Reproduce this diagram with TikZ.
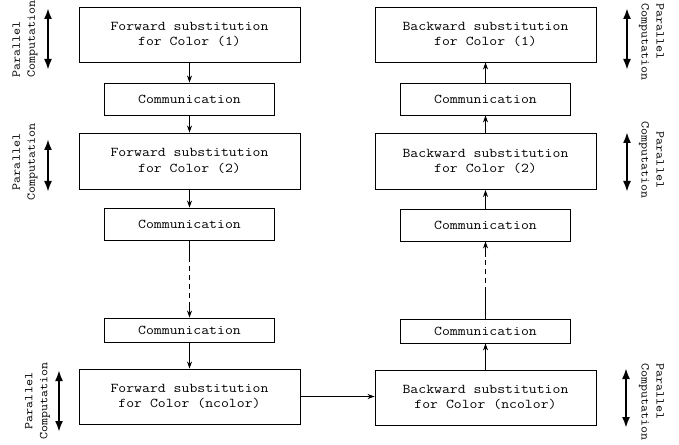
\documentclass[tikz,border=0pt]{standalone}
\usepackage{fontspec}
\setmonofont{Latin Modern Mono}[FakeStretch=1.14]
\usetikzlibrary{arrows.meta}
\begin{document}
\begin{tikzpicture}[x=1bp,y=-1bp,
 every node/.style={font=\ttfamily\fontsize{13.5}{15.5}\selectfont},
 bigbox/.style={draw, line width=0.9bp, minimum width=221bp, minimum height=55bp, inner sep=0pt, align=center},
 commbox/.style={draw, line width=0.9bp, minimum width=170bp, minimum height=32bp, inner sep=0pt},
 plain/.style={line width=0.9bp},
 flow/.style={line width=0.9bp, -{Stealth[length=7bp,width=5bp]}},
 dashline/.style={line width=0.9bp, dash pattern=on 5bp off 4bp},
 side/.style={line width=2bp, {Latex[length=11bp,width=8bp]}-{Latex[length=11bp,width=8bp]}},
 sidelabel/.style={font=\ttfamily\fontsize{12}{15}\selectfont, inner sep=0pt}
]
\useasboundingbox (0,0) rectangle (679,445);

% left column
\node[bigbox] (f1) at (189.5,34.5) {Forward substitution\\for Color (1)};
\node[commbox] (c1) at (189.5,99) {Communication};
\node[bigbox, minimum height=56bp] (f2) at (189.5,161) {Forward substitution\\for Color (2)};
\node[commbox] (c2) at (189.5,224) {Communication};
\node[commbox, minimum height=24bp] (c3) at (189.5,330) {Communication};
\node[bigbox] (fn) at (189.5,396.5) {Forward substitution\\for Color (ncolor)};

% right column
\node[bigbox] (b1) at (485.5,34.5) {Backward substitution\\for Color (1)};
\node[commbox] (rc1) at (485.5,99) {Communication};
\node[bigbox, minimum height=56bp] (b2) at (485.5,161.5) {Backward substitution\\for Color (2)};
\node[commbox] (rc2) at (485.5,225) {Communication};
\node[commbox, minimum height=24bp] (rc3) at (485.5,331) {Communication};
\node[bigbox] (bn) at (485.5,397.5) {Backward substitution\\for Color (ncolor)};

% left flow
\draw[flow] (f1) -- (c1);
\draw[flow] (c1) -- (f2);
\draw[flow] (f2) -- (c2);
\coordinate (l1) at (189.5,257);
\coordinate (l2) at (189.5,302);
\draw[plain] (c2) -- (l1);
\draw[dashline] (l1) -- (l2);
\draw[flow] (l2) -- (c3);
\draw[flow] (c3) -- (fn);

% bottom link
\draw[flow] (fn.east) -- (fn.east -| bn.west);

% right flow
\draw[flow] (bn) -- (rc3);
\coordinate (r1) at (485.5,292);
\coordinate (r2) at (485.5,257);
\draw[plain] (rc3) -- (r1);
\draw[dashline] (r1) -- (r2);
\draw[flow] (r2) -- (rc2);
\draw[flow] (rc2) -- (b2);
\draw[flow] (b2) -- (rc1);
\draw[flow] (rc1) -- (b1);

% side arrows
\coordinate (a1t) at (48,8);   \coordinate (a1b) at (48,70);
\coordinate (a2t) at (48,139); \coordinate (a2b) at (48,192);
\coordinate (a3t) at (59,370); \coordinate (a3b) at (59,432);
\coordinate (a4t) at (627,8);  \coordinate (a4b) at (627,70);
\coordinate (a5t) at (627,132);\coordinate (a5b) at (627,192);
\coordinate (a6t) at (626,368);\coordinate (a6b) at (626,428);
\draw[side] (a1t) -- (a1b);
\draw[side] (a2t) -- (a2b);
\draw[side] (a3t) -- (a3b);
\draw[side] (a4t) -- (a4b);
\draw[side] (a5t) -- (a5b);
\draw[side] (a6t) -- (a6b);

% side labels
\node[sidelabel, rotate=90, align=left] (p1) at (25,39) {Parallel\\Computation};
\node[sidelabel, rotate=90, align=center] (p2) at (25,162) {Parallel\\Computation};
\node[sidelabel, rotate=90, align=center] (p3) at (37.5,401) {Parallel\\Computation};
\node[sidelabel, rotate=-90, align=left] (p4) at (651.5,42) {Parallel\\Computation};
\node[sidelabel, rotate=-90, align=center] (p5) at (651.5,160) {Parallel\\Computation};
\node[sidelabel, rotate=-90, align=left] (p6) at (651.5,402) {Parallel\\Computation};
\end{tikzpicture}
\end{document}
